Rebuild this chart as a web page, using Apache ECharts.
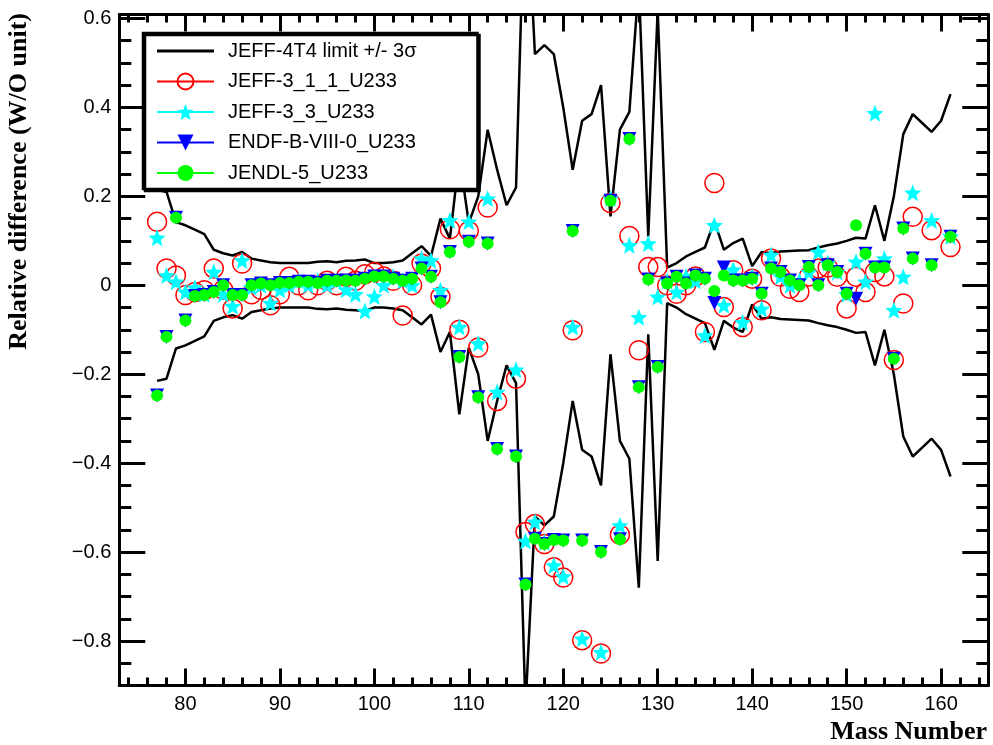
<!DOCTYPE html>
<html>
<head>
<meta charset="utf-8">
<script src="https://cdn.jsdelivr.net/npm/echarts@6/dist/echarts.min.js"></script>
<style>
  html, body { margin: 0; padding: 0; background: #fff; }
  #chart { width: 993px; height: 745px; }
</style>
</head>
<body>
<div id="chart"></div>
<script>
// Mass numbers of the fission products (one entry per column of the arrays below)
const massNumbers = [
  77, 78, 79, 80, 81, 82, 83, 84, 85, 86,
  87, 88, 89, 90, 91, 92, 93, 94, 95, 96,
  97, 98, 99, 100, 101, 102, 103, 104, 105, 106,
  107, 108, 109, 110, 111, 112, 113, 114, 115, 116,
  117, 118, 119, 120, 121, 122, 123, 124, 125, 126,
  127, 128, 129, 130, 131, 132, 133, 134, 135, 136,
  137, 138, 139, 140, 141, 142, 143, 144, 145, 146,
  147, 148, 149, 150, 151, 152, 153, 154, 155, 156,
  157, 158, 159, 160, 161
];

// JEFF-4T4 3-sigma band half-width (drawn as +limit and -limit)
const limit3Sigma = [
  0.215, 0.21, 0.142, 0.135, 0.125, 0.115, 0.08, 0.072, 0.067, 0.075,
  0.06, 0.056, 0.052, 0.05, 0.05, 0.05, 0.05, 0.053, 0.054, 0.052,
  0.055, 0.056, 0.058, 0.05, 0.05, 0.052, 0.056, 0.072, 0.088, 0.066,
  0.15, 0.105, 0.29, 0.14, 0.2, 0.35, 0.26, 0.18, 0.22, 0.95,
  0.52, 0.54, 0.52, 0.4, 0.26, 0.37, 0.385, 0.45, 0.155, 0.35,
  0.39, 0.68, 0.11, 0.62, 0.04, 0.05, 0.065, 0.075, 0.085, 0.145,
  0.08, 0.095, 0.105, 0.043, 0.075, 0.072, 0.076, 0.077, 0.078, 0.079,
  0.085, 0.09, 0.094, 0.1, 0.107, 0.105, 0.18, 0.1, 0.2, 0.34,
  0.385, 0.365, 0.345, 0.37, 0.43
];

// Relative differences per evaluation (null = no value for that mass)
const jeff311 = [
  0.143, 0.038, 0.022, -0.022, -0.015, -0.011, 0.038, -0.01, -0.052, 0.049,
  -0.02, -0.01, -0.045, -0.02, 0.019, 0.0, -0.011, 0.0, 0.01, 0.0,
  0.019, 0.01, 0.025, 0.03, 0.02, 0.01, -0.068, 0.0, 0.049, 0.038,
  -0.026, 0.126, -0.1, 0.122, -0.14, 0.175, -0.26, null, -0.21, -0.555,
  -0.537, -0.582, -0.634, -0.657, -0.101, -0.798, null, -0.828, 0.185, -0.561,
  0.111, -0.146, 0.041, 0.041, 0.0, -0.019, 0.0, 0.02, -0.105, 0.23,
  -0.049, 0.034, -0.094, 0.015, -0.056, 0.06, 0.019, -0.008, -0.015, 0.02,
  0.038, 0.04, 0.019, -0.052, 0.019, -0.015, 0.03, 0.02, -0.168, -0.041,
  0.154, null, 0.124, null, 0.086
];

const jeff33 = [
  0.107, 0.022, 0.008, -0.015, -0.005, -0.02, 0.03, -0.02, -0.047, 0.056,
  -0.005, 0.0, -0.04, -0.01, 0.0, 0.01, 0.0, 0.01, 0.0, 0.01,
  -0.01, -0.02, -0.058, -0.025, 0.0, 0.02, 0.01, 0.0, 0.06, 0.056,
  -0.011, 0.146, -0.094, 0.143, -0.131, 0.195, -0.24, null, -0.19, -0.575,
  -0.532, -0.578, -0.63, -0.655, -0.094, -0.795, null, -0.825, 0.195, -0.54,
  0.09, -0.072, 0.094, -0.026, 0.01, -0.015, 0.02, 0.01, -0.113, 0.135,
  -0.045, 0.035, -0.083, 0.02, -0.053, 0.068, 0.02, 0.0, 0.01, 0.03,
  0.075, 0.05, 0.03, -0.02, 0.053, 0.008, 0.387, 0.06, -0.056, 0.019,
  0.208, null, 0.146, null, 0.11
];

const endf80 = [
  -0.248, -0.116, 0.152, -0.079, -0.024, -0.022, -0.015, 0.0, -0.022, -0.022,
  0.0, 0.004, 0.0, 0.005, 0.005, 0.008, 0.008, 0.005, 0.01, 0.01,
  0.011, 0.01, 0.015, 0.02, 0.02, 0.015, 0.01, 0.015, 0.038, 0.019,
  -0.038, 0.075, -0.161, 0.098, -0.252, 0.094, -0.368, null, -0.385, -0.673,
  -0.57, -0.582, -0.573, -0.574, 0.122, -0.574, null, -0.6, 0.19, -0.571,
  0.329, -0.229, 0.013, -0.184, 0.004, 0.019, 0.004, 0.022, 0.015, -0.04,
  0.04, 0.011, 0.011, 0.015, -0.019, 0.038, 0.03, 0.011, 0.0, 0.041,
  0.0, 0.045, 0.03, -0.019, -0.03, 0.071, 0.04, 0.04, -0.165, 0.128,
  0.06, null, 0.045, null, 0.109
];

const jendl5 = [
  -0.248, -0.116, 0.152, -0.079, -0.024, -0.022, -0.015, 0.0, -0.022, -0.022,
  0.0, 0.004, 0.0, 0.005, 0.005, 0.008, 0.008, 0.005, 0.01, 0.01,
  0.011, 0.01, 0.015, 0.02, 0.02, 0.015, 0.01, 0.015, 0.038, 0.019,
  -0.038, 0.075, -0.161, 0.098, -0.252, 0.094, -0.368, null, -0.385, -0.673,
  -0.57, -0.582, -0.573, -0.574, 0.122, -0.574, null, -0.6, 0.19, -0.571,
  0.329, -0.229, 0.013, -0.184, 0.004, 0.019, 0.004, 0.022, 0.015, -0.013,
  0.022, 0.011, 0.011, 0.015, -0.019, 0.038, 0.03, 0.011, 0.0, 0.041,
  0.0, 0.045, 0.03, -0.019, 0.135, 0.071, 0.04, 0.04, -0.165, 0.128,
  0.06, null, 0.045, null, 0.109
];

// Axis tick positions
const xMajorTicks = [80, 90, 100, 110, 120, 130, 140, 150, 160];
const xMinorTicks = [74, 76, 78, 82, 84, 86, 88, 92, 94, 96, 98, 102, 104, 106, 108,
  112, 114, 116, 118, 122, 124, 126, 128, 132, 134, 136, 138, 142, 144, 146, 148,
  152, 154, 156, 158, 162, 164];
const yMajorTicks = [-0.8, -0.6, -0.4, -0.2, 0, 0.2, 0.4, 0.6];
const yMinorTicks = [-0.85, -0.75, -0.7, -0.65, -0.55, -0.5, -0.45, -0.35, -0.3, -0.25,
  -0.15, -0.1, -0.05, 0.05, 0.1, 0.15, 0.25, 0.3, 0.35, 0.45, 0.5, 0.55];

const LIMIT_NAME = 'JEFF-4T4 limit +/- 3\u03c3';
const SANS = '"Liberation Sans", Arial, Helvetica, sans-serif';
const SERIF = '"Liberation Serif", "Times New Roman", serif';
const STAR = 'path://M50,0L62.9,32.2L97.6,34.5L70.9,56.8L79.4,90.5L50,72L20.6,90.5L29.1,56.8L2.4,34.5L37.1,32.2Z';

const toPairs = (ys) => massNumbers.map((a, i) => [a, ys[i]]).filter(p => p[1] !== null);

const X_RANGE = { min: 73, max: 165 };
const Y_RANGE = { min: -0.9, max: 0.609 };

function frameAxis(range, position, ticks, tickLen, showLine, labels) {
  return Object.assign({
    type: 'value',
    position: position,
    axisLine: { show: showLine, onZero: false, lineStyle: { color: '#000', width: 3 } },
    axisTick: { show: true, inside: true, length: tickLen, customValues: ticks,
      lineStyle: { color: '#000', width: 3 } },
    axisLabel: labels || { show: false },
    splitLine: { show: false },
    minorTick: { show: false }
  }, range);
}

const chart = echarts.init(document.getElementById('chart'), null, { renderer: 'canvas' });

chart.setOption({
  animation: false,
  backgroundColor: '#fff',
  grid: { left: 119.3, right: 4.7, top: 14.5, bottom: 59.5, containLabel: false, outerBoundsMode: 'none' },
  xAxis: [
    frameAxis(X_RANGE, 'bottom', xMajorTicks, 17, true, {
      show: true, customValues: xMajorTicks, margin: 9, color: '#000',
      fontSize: 20, fontFamily: SANS
    }),
    frameAxis(X_RANGE, 'bottom', xMinorTicks, 8, false),
    frameAxis(X_RANGE, 'top', xMajorTicks, 17, true),
    frameAxis(X_RANGE, 'top', xMinorTicks, 8, false)
  ],
  yAxis: [
    frameAxis(Y_RANGE, 'left', yMajorTicks, 26, true, {
      show: true, customValues: yMajorTicks, margin: 8, color: '#000',
      fontSize: 20, fontFamily: SANS,
      formatter: (v) => (v < 0 ? '\u2212' + String(Math.abs(v)) : String(v))
    }),
    frameAxis(Y_RANGE, 'left', yMinorTicks, 12, false),
    frameAxis(Y_RANGE, 'right', yMajorTicks, 26, true),
    frameAxis(Y_RANGE, 'right', yMinorTicks, 12, false)
  ],
  legend: {
    orient: 'vertical',
    left: 143,
    top: 33,
    itemWidth: 57,
    itemHeight: 20,
    itemGap: 10.5,
    padding: [8, 61, 6, 13],
    backgroundColor: '#fff',
    borderColor: '#000',
    borderWidth: 2.5,
    shadowColor: '#000',
    shadowBlur: 0,
    shadowOffsetX: 2,
    shadowOffsetY: 2,
    selectedMode: false,
    textStyle: { fontSize: 20, fontFamily: SANS, color: '#000', padding: [0, 0, 0, 9] },
    itemStyle: { opacity: 1 },
    lineStyle: { width: 2, opacity: 1 },
    data: [
      { name: LIMIT_NAME, icon: 'path://M0,0H60V3H0Z' },
      'JEFF-3_1_1_U233',
      'JEFF-3_3_U233',
      'ENDF-B-VIII-0_U233',
      'JENDL-5_U233'
    ]
  },
  graphic: [
    {
      type: 'text', x: 19, y: 13, rotation: Math.PI / 2, silent: true,
      style: { text: 'Relative difference (W/O unit)', font: 'bold 26px ' + SERIF,
        fill: '#000', align: 'right', verticalAlign: 'middle' }
    },
    {
      type: 'text', x: 987, y: 732, silent: true,
      style: { text: 'Mass Number', font: 'bold 26px ' + SERIF,
        fill: '#000', align: 'right', verticalAlign: 'middle' }
    }
  ],
  series: [
    {
      name: LIMIT_NAME, type: 'line', symbol: 'none', silent: true,
      data: toPairs(limit3Sigma),
      itemStyle: { color: '#000' },
      lineStyle: { color: '#000', width: 2.5 }
    },
    {
      name: LIMIT_NAME, type: 'line', symbol: 'none', silent: true,
      data: toPairs(limit3Sigma.map(v => -v)),
      itemStyle: { color: '#000' },
      lineStyle: { color: '#000', width: 2.5 }
    },
    {
      name: 'JEFF-3_1_1_U233', type: 'line', silent: true,
      data: toPairs(jeff311),
      symbol: 'circle', symbolSize: 19,
      itemStyle: { color: 'rgba(255,255,255,0)', borderColor: '#ff0000', borderWidth: 1.5 },
      lineStyle: { color: '#ff0000', opacity: 0 }
    },
    {
      name: 'JEFF-3_3_U233', type: 'line', silent: true,
      data: toPairs(jeff33),
      symbol: STAR, symbolSize: 17,
      itemStyle: { color: '#00ffff' },
      lineStyle: { color: '#00ffff', opacity: 0 }
    },
    {
      name: 'ENDF-B-VIII-0_U233', type: 'line', silent: true,
      data: toPairs(endf80),
      symbol: 'triangle', symbolSize: 14, symbolRotate: 180,
      itemStyle: { color: '#0000ff' },
      lineStyle: { color: '#0000ff', opacity: 0 }
    },
    {
      name: 'JENDL-5_U233', type: 'line', silent: true,
      data: toPairs(jendl5),
      symbol: 'circle', symbolSize: 12,
      itemStyle: { color: '#00ff00' },
      lineStyle: { color: '#00ff00', opacity: 0 }
    }
  ]
});
</script>
</body>
</html>
